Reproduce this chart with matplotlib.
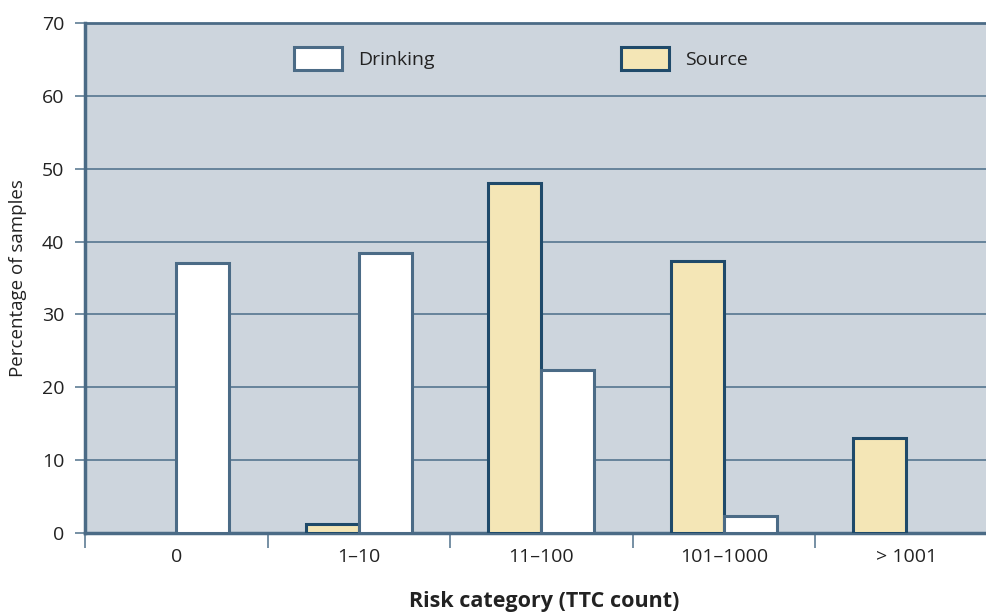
import numpy as np
import matplotlib.pyplot as plt
from matplotlib.patches import Patch

categories = ["0", "1\u201310", "11\u2013100", "101\u20131000", "> 1001"]
drinking = [37.0, 38.5, 22.4, 2.4, 0.0]
source = [0.0, 1.3, 48.0, 37.3, 13.0]
yticks = [0, 10, 20, 30, 40, 50, 60, 70]

bg = "#cdd5dd"
edge = "#4b6b86"
edge_dark = "#1f4a6a"
grid_c = "#5f7d95"
yellow = "#f4e6b6"
txt = "#222222"

plt.rcParams['font.family'] = ['Open Sans', 'DejaVu Sans']

fig = plt.figure(figsize=(9.86, 6.12), dpi=100)
ax = fig.add_axes([85/986, 1 - 533/612, 912.5/986, 510/612])
ax.set_facecolor(bg)

x = np.arange(len(categories))
w = 0.29
src_bars = ax.bar(x - w/2, source, w, color=yellow, edgecolor=edge_dark, linewidth=2.2, zorder=3)
dr_bars = ax.bar(x + w/2, drinking, w, color="white", edgecolor=edge, linewidth=2.2, zorder=3)
# zero-height bars are not drawn in the reference
for b, v in zip(src_bars, source):
    if v == 0:
        b.set_visible(False)
for b, v in zip(dr_bars, drinking):
    if v == 0:
        b.set_visible(False)

ax.set_xlim(-0.5, len(categories) - 0.5)
ax.set_ylim(0, 70)
ax.set_yticks(yticks)
ax.yaxis.grid(True, color=grid_c, linewidth=1.3, zorder=1)
ax.set_axisbelow(True)

ax.set_xticks(np.arange(-0.5, len(categories), 1.0))
ax.set_xticklabels([])
ax.set_xticks(x, minor=True)
ax.set_xticklabels(categories, minor=True)
ax.tick_params(axis='x', which='major', length=11, width=1.2, color=grid_c)
ax.tick_params(axis='x', which='minor', length=0, pad=11, labelsize=14, labelcolor=txt)
ax.tick_params(axis='y', length=7, width=1.2, color=grid_c, labelsize=14, labelcolor=txt, pad=8)

for s in ['left', 'bottom', 'top']:
    ax.spines[s].set_color(edge)
    ax.spines[s].set_linewidth(2.5)
ax.spines['top'].set_linewidth(2.0)
ax.spines['right'].set_visible(False)

ax.set_ylabel("Percentage of samples", fontsize=13.5, color=txt)
ax.yaxis.set_label_coords(-0.064, 0.5)
fig.text(544/986, 1 - 602/612, "Risk category (TTC count)", fontsize=15.5, fontweight='bold',
         color=txt, ha='center', va='center')

h_dr = Patch(facecolor="white", edgecolor=edge, linewidth=2.2)
h_src = Patch(facecolor=yellow, edgecolor=edge_dark, linewidth=2.2)
for h, lab, px in [(h_dr, "Drinking", 294), (h_src, "Source", 621)]:
    lg = fig.legend([h], [lab], loc='upper left', bbox_to_anchor=(px/986, 1 - 47/612),
                    frameon=False, fontsize=14, borderpad=0, borderaxespad=0,
                    handlelength=2.45, handleheight=1.45, handletextpad=0.85)
    for t in lg.get_texts():
        t.set_color(txt)

fig.savefig("out.png", dpi=100)
